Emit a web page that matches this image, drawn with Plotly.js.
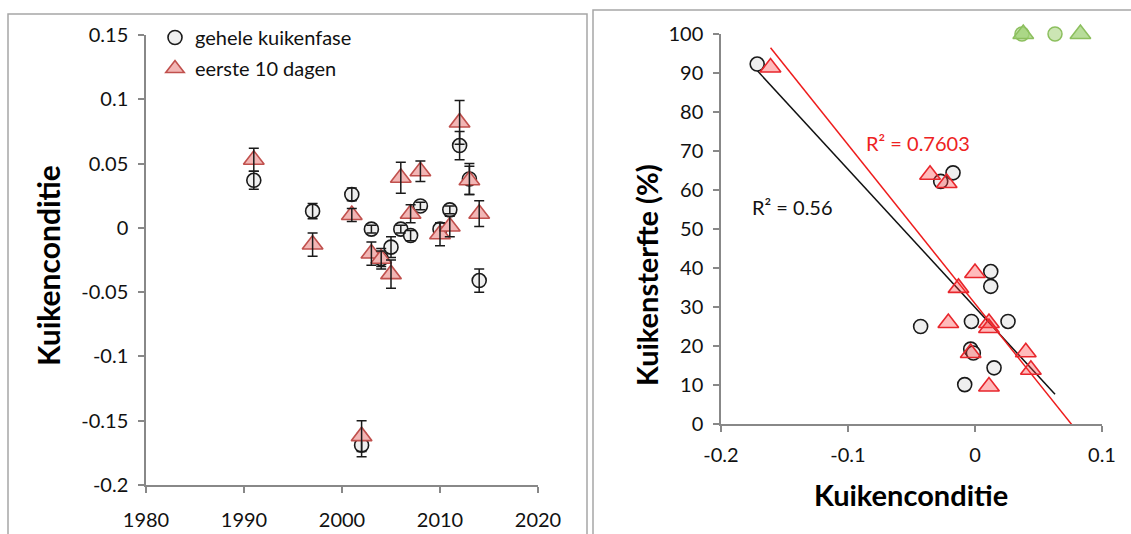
<!DOCTYPE html>
<html><head><meta charset="utf-8">
<script src="https://cdn.plot.ly/plotly-3.0.1.min.js"></script>
<style>html,body{margin:0;padding:0;background:#fff}</style>
</head><body><div id="chart" style="width:1131px;height:534px"></div>
<script>
// ---- Left panel: condition per year ----
const years = [1991, 1997, 2001, 2002, 2003, 2004, 2005, 2006, 2007, 2008, 2010, 2011, 2012, 2013, 2014];
const condWhole = [0.037, 0.013, 0.026, -0.169, -0.001, -0.024, -0.015, -0.001, -0.006, 0.017, -0.001, 0.014, 0.064, 0.038, -0.041];
const condWholeErr = [0.007, 0.006, 0.005, 0.009, 0.003, 0.008, 0.008, 0.003, 0.004, 0.003, 0.005, 0.003, 0.011, 0.012, 0.009];
const condFirst10 = [0.053, -0.013, 0.010, -0.162, -0.020, -0.024, -0.036, 0.039, 0.011, 0.044, -0.005, 0.001, 0.082, 0.037, 0.011];
const condFirst10Err = [0.009, 0.009, 0.005, 0.012, 0.009, 0.006, 0.011, 0.012, 0.007, 0.008, 0.009, 0.008, 0.017, 0.011, 0.010];

// ---- Right panel: mortality vs condition ----
const mortCircX = [-0.1715, -0.027, -0.0173, 0.0124, 0.0124, -0.0428, -0.0028, 0.026, -0.0034, -0.0013, 0.015, -0.0081];
const mortCircY = [92.3, 62.2, 64.4, 39.1, 35.3, 25.0, 26.3, 26.3, 19.2, 18.2, 14.4, 10.1];
const mortTriX = [-0.161, -0.0354, -0.0223, 0.0, -0.013, -0.021, 0.011, 0.011, -0.0034, 0.040, 0.044, 0.011];
const mortTriY = [91.4, 63.9, 61.8, 38.7, 34.9, 25.9, 25.9, 24.6, 18.2, 18.4, 13.9, 9.6];
const greenCircX = [0.037, 0.063];
const greenCircY = [100, 100];
const greenTriX = [0.038, 0.083];
const greenTriY = [100, 100];

// ---- Tick labels ----
const leftYTicks = [0.15, 0.1, 0.05, 0, -0.05, -0.1, -0.15, -0.2];
const leftYLabels = ['0.15', '0.1', '0.05', '0', '-0.05', '-0.1', '-0.15', '-0.2'];
const leftXTicks = [1980, 1990, 2000, 2010, 2020];
const leftXLabels = ['1980', '1990', '2000', '2010', '2020'];
const rightXTicks = [-0.2, -0.1, 0, 0.1];
const rightXLabels = ['-0.2', '-0.1', '0', '0.1'];
const rightYTicks = [0, 10, 20, 30, 40, 50, 60, 70, 80, 90, 100];
const rightYLabels = ['0', '10', '20', '30', '40', '50', '60', '70', '80', '90', '100'];

function linfit(xs, ys) {
  const n = xs.length;
  const mx = xs.reduce((a, b) => a + b, 0) / n;
  const my = ys.reduce((a, b) => a + b, 0) / n;
  let sxx = 0, sxy = 0;
  for (let i = 0; i < n; i++) { sxx += (xs[i] - mx) ** 2; sxy += (xs[i] - mx) * (ys[i] - my); }
  const b = sxy / sxx;
  return { a: my - b * mx, b: b };
}
function fitLine(xs, ys, extraX) {
  const f = linfit(xs, ys);
  const all = xs.concat(extraX);
  const x0 = Math.min(...all), x1 = Math.max(...all);
  return { x: [x0, x1], y: [f.a + f.b * x0, f.a + f.b * x1] };
}
const blackFit = fitLine(mortCircX, mortCircY, greenCircX);
const redFit = fitLine(mortTriX, mortTriY, greenTriX);

const FONT = 'Lato, "Open Sans", sans-serif';
const W = 1131, H = 534;
const px = v => v / W, py = v => 1 - v / H;

const circMarker = { symbol: 'circle', size: 14, color: '#efefef', line: { color: '#1a1a1a', width: 1.6 } };
const triMarkerL = { symbol: 'triangle-up', size: 18, color: '#f2b6b5', line: { color: '#c0504d', width: 1.6 } };
const triMarkerR = { symbol: 'triangle-up', size: 18, color: 'rgba(255,60,60,0.35)', line: { color: '#e8262c', width: 1.6 } };
const errStyle = { type: 'data', symmetric: true, color: '#1a1a1a', thickness: 1.5, width: 5 };
const invisible = { size: 1, color: 'rgba(0,0,0,0)' };

const traces = [
  { x: years, y: condWhole, type: 'scatter', mode: 'markers', name: 'gehele kuikenfase',
    marker: circMarker, xaxis: 'x', yaxis: 'y', legendgroup: 'a', hoverinfo: 'x+y' },
  { x: years, y: condWhole, type: 'scatter', mode: 'markers', showlegend: false,
    marker: invisible, error_y: Object.assign({ array: condWholeErr }, errStyle), xaxis: 'x', yaxis: 'y', hoverinfo: 'skip' },
  { x: years, y: condFirst10, type: 'scatter', mode: 'markers', name: 'eerste 10 dagen',
    marker: triMarkerL, xaxis: 'x', yaxis: 'y', legendgroup: 'b', hoverinfo: 'x+y' },
  { x: years, y: condFirst10, type: 'scatter', mode: 'markers', showlegend: false,
    marker: invisible, error_y: Object.assign({ array: condFirst10Err }, errStyle), xaxis: 'x', yaxis: 'y', hoverinfo: 'skip' },

  { x: blackFit.x, y: blackFit.y, type: 'scatter', mode: 'lines', showlegend: false,
    line: { color: '#111', width: 1.5 }, xaxis: 'x2', yaxis: 'y2', hoverinfo: 'skip' },
  { x: redFit.x, y: redFit.y, type: 'scatter', mode: 'lines', showlegend: false,
    line: { color: '#ee1c1c', width: 1.5 }, xaxis: 'x2', yaxis: 'y2', hoverinfo: 'skip' },
  { x: mortCircX, y: mortCircY, type: 'scatter', mode: 'markers', showlegend: false,
    marker: circMarker, xaxis: 'x2', yaxis: 'y2' },
  { x: mortTriX, y: mortTriY, type: 'scatter', mode: 'markers', showlegend: false,
    marker: triMarkerR, xaxis: 'x2', yaxis: 'y2' },
  { x: greenCircX, y: greenCircY, type: 'scatter', mode: 'markers', showlegend: false, cliponaxis: false,
    marker: { symbol: 'circle', size: 14, color: 'rgba(170,212,130,0.6)', line: { color: '#8cbf5e', width: 1.5 } }, xaxis: 'x2', yaxis: 'y2' },
  { x: greenTriX, y: greenTriY, type: 'scatter', mode: 'markers', showlegend: false, cliponaxis: false,
    marker: { symbol: 'triangle-up', size: 18, color: 'rgba(160,210,120,0.75)', line: { color: '#8cbf5e', width: 1.5 } }, xaxis: 'x2', yaxis: 'y2' }
];

const axisCommon = {
  showgrid: false, zeroline: false, showline: true, linecolor: '#888', linewidth: 1.5,
  ticks: 'outside', ticklen: 6, tickwidth: 1.5, tickcolor: '#888',
  tickfont: { family: FONT, size: 20, color: '#111' }, fixedrange: true, automargin: false
};

const layout = {
  width: W, height: H,
  margin: { l: 0, r: 0, t: 0, b: 0 },
  paper_bgcolor: '#fff', plot_bgcolor: 'rgba(0,0,0,0)',
  font: { family: FONT, color: '#111' },
  showlegend: true,
  legend: { x: px(155), y: py(18), xanchor: 'left', yanchor: 'top', bgcolor: 'rgba(0,0,0,0)',
    font: { family: FONT, size: 20, color: '#111' }, traceorder: 'grouped', tracegroupgap: 2 },
  xaxis: Object.assign({}, axisCommon, { domain: [px(146), px(538)], range: [1980, 2020], anchor: 'y',
    tickvals: leftXTicks, ticktext: leftXLabels, ticklabelstandoff: 10 }),
  yaxis: Object.assign({}, axisCommon, { domain: [py(485), py(35)], range: [-0.2, 0.15], anchor: 'x',
    tickvals: leftYTicks, ticktext: leftYLabels, ticklabelstandoff: 6 }),
  xaxis2: Object.assign({}, axisCommon, { domain: [px(721), px(1102)], range: [-0.2, 0.1], anchor: 'y2',
    tickvals: rightXTicks, ticktext: rightXLabels, ticklabelstandoff: 6 }),
  yaxis2: Object.assign({}, axisCommon, { domain: [py(424), py(34)], range: [0, 100], anchor: 'x2',
    tickvals: rightYTicks, ticktext: rightYLabels, ticklabelstandoff: 6 }),
  shapes: [
    { type: 'rect', xref: 'paper', yref: 'paper', x0: px(8), x1: px(587), y0: -0.2, y1: py(14),
      line: { color: '#a6a6a6', width: 1.5 }, layer: 'below' },
    { type: 'rect', xref: 'paper', yref: 'paper', x0: px(593), x1: 1.2, y0: -0.2, y1: py(10),
      line: { color: '#a6a6a6', width: 1.5 }, layer: 'below' }
  ],
  annotations: [
    { text: 'Kuikenconditie', xref: 'paper', yref: 'paper', x: px(48), y: py(266), textangle: -90,
      showarrow: false, xanchor: 'center', yanchor: 'middle', font: { family: FONT, size: 30, color: '#000', weight: 'bold' } },
    { text: 'Kuikensterfte (%)', xref: 'paper', yref: 'paper', x: px(646), y: py(275), textangle: -90,
      showarrow: false, xanchor: 'center', yanchor: 'middle', font: { family: FONT, size: 29, color: '#000', weight: 'bold' } },
    { text: 'Kuikenconditie', xref: 'paper', yref: 'paper', x: px(911), y: py(494),
      showarrow: false, xanchor: 'center', yanchor: 'middle', font: { family: FONT, size: 29, color: '#000', weight: 'bold' } },
    { text: 'R² = 0.7603', xref: 'x2', yref: 'y2', x: -0.0452, y: 72.1, showarrow: false,
      xanchor: 'center', yanchor: 'middle', font: { family: FONT, size: 20, color: '#ee2222' } },
    { text: 'R² = 0.56', xref: 'x2', yref: 'y2', x: -0.1437, y: 55.7, showarrow: false,
      xanchor: 'center', yanchor: 'middle', font: { family: FONT, size: 20, color: '#111' } }
  ]
};

Plotly.newPlot('chart', traces, layout, { displayModeBar: false, staticPlot: false });
</script>
</body></html>
